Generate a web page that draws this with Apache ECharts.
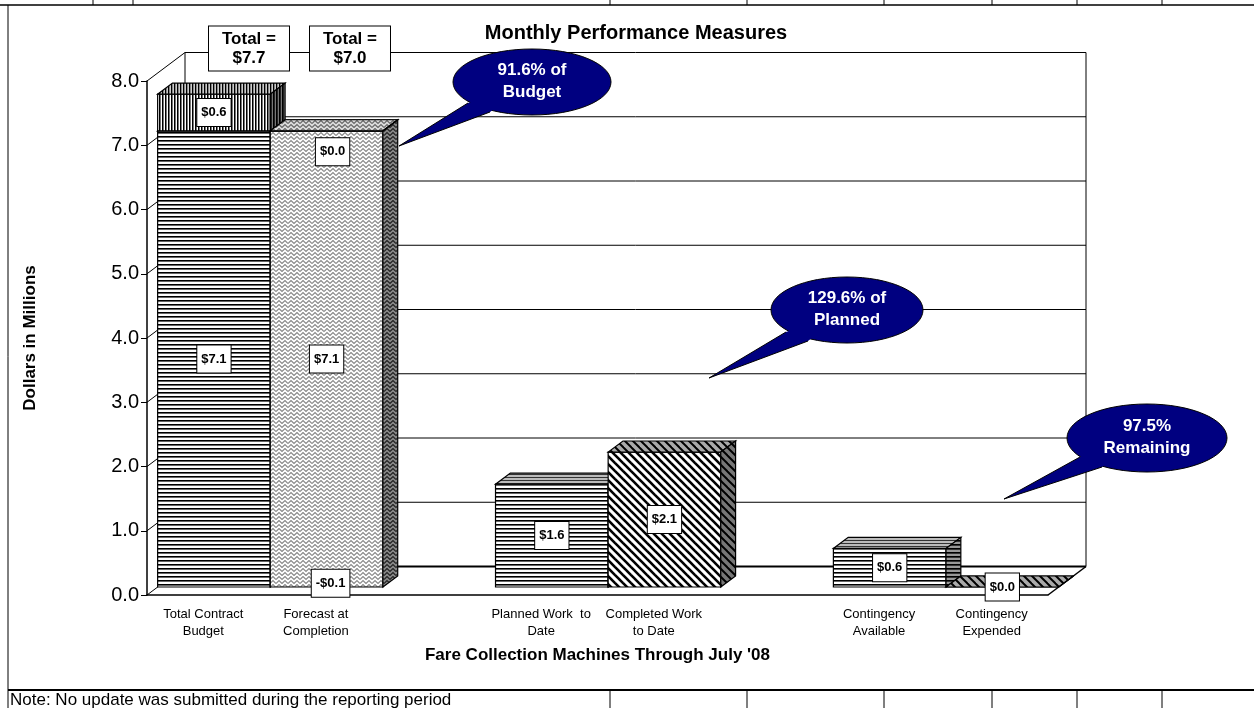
<!DOCTYPE html>
<html>
<head>
<meta charset="utf-8">
<title>Monthly Performance Measures</title>
<script src="https://cdn.jsdelivr.net/npm/echarts@6/dist/echarts.min.js"></script>
<style>
    html, body { margin: 0; padding: 0; background: #fff; }
    #chartDiv { width: 1254px; height: 708px; }
</style>
</head>
<body>
<div id="chartDiv"></div>
<script>
// x axis slots ('' = empty gap between groups)
var categories = ['Total Contract\nBudget', 'Forecast at\nCompletion', '', 'Planned Work  to\nDate', 'Completed Work\nto Date', '', 'Contingency\nAvailable', 'Contingency\nExpended'];
// stacked pieces, $ millions
var baseValues   = [7.1, 7.1, null, 1.6, 2.1, null, 0.6, 0.0];
var upperValues  = [0.57, 0.0, null, null, null, null, null, null];
var creditValues = [null, -0.1, null, null, null, null, null, null];
var yTicks = [0, 1, 2, 3, 4, 5, 6, 7, 8];
var calloutTexts = ['91.6% of\nBudget', '129.6% of\nPlanned', '97.5%\nRemaining'];

var FONT = '"Liberation Sans", Arial, sans-serif';
var depthX = 38, depthY = -28.5;   // 3d wall depth
var frontT = 0.28, backT = 0.67;   // where bars sit inside the depth

function fmt(v) {
    return (v < 0 ? '-' : '') + '$' + Math.abs(v).toFixed(1);
}

/* ---- fill patterns ---- */
function tile(w, h, draw) {
    var c = document.createElement('canvas');
    c.width = w; c.height = h;
    var ctx = c.getContext('2d');
    draw(ctx, w, h);
    return { image: c, repeat: 'repeat' };
}
function rows(colors) {
    return tile(4, colors.length, function (ctx) {
        colors.forEach(function (col, i) { ctx.fillStyle = col; ctx.fillRect(0, i, 4, 1); });
    });
}
function cols(colors) {
    return tile(colors.length, 4, function (ctx) {
        colors.forEach(function (col, i) { ctx.fillStyle = col; ctx.fillRect(i, 0, 1, 4); });
    });
}
function zigzag(bg, ink) {
    return tile(12, 8, function (ctx, w, h) {
        ctx.fillStyle = bg; ctx.fillRect(0, 0, w, h);
        ctx.strokeStyle = ink; ctx.lineWidth = 1.2;
        [0.5, 4.5].forEach(function (y0) {
            ctx.beginPath();
            ctx.moveTo(0, y0 + 3); ctx.lineTo(3, y0); ctx.lineTo(6, y0 + 3); ctx.lineTo(9, y0); ctx.lineTo(12, y0 + 3);
            ctx.stroke();
        });
    });
}
function diag(bg, ink, lw) {
    return tile(8, 8, function (ctx, w, h) {
        ctx.fillStyle = bg; ctx.fillRect(0, 0, w, h);
        ctx.strokeStyle = ink; ctx.lineWidth = lw;
        [-8, 0, 8].forEach(function (k) {
            ctx.beginPath(); ctx.moveTo(k - 2, -2); ctx.lineTo(k + 10, 10); ctx.stroke();
        });
    });
}
var fills = {
    hlines: { front: rows(['#000', '#666', '#fff', '#fff']), top: rows(['#333', '#bbb', '#bbb']), side: rows(['#000', '#333', '#999', '#999']) },
    vlines: { front: cols(['#000', '#777', '#fff']), top: cols(['#000', '#888', '#ccc']), side: cols(['#000', '#222', '#777']) },
    zigzag: { front: zigzag('#fff', '#8a8a8a'), top: zigzag('#ddd', '#666'), side: zigzag('#888', '#222') },
    diag:   { front: diag('#fff', '#000', 2.6), top: diag('#aaa', '#000', 2), side: diag('#777', '#000', 2) }
};
var basePatterns  = ['hlines', 'zigzag', null, 'hlines', 'diag', null, 'hlines', 'diag'];
var upperPatterns = ['vlines', 'zigzag', null, null, null, null, null, null];

/* ---- back wall, side wall, floor ---- */
function renderWall(params, api) {
    var cs = params.coordSys;
    var v = api.value(1);
    var y = api.coord([0, v])[1];
    var left = cs.x, right = cs.x + cs.width;
    var children = [
        { type: 'line', shape: { x1: left + depthX, y1: y + depthY, x2: right + depthX, y2: y + depthY },
          style: { stroke: '#000', lineWidth: v === 0 ? 2 : 1 } },
        { type: 'line', shape: { x1: left, y1: y, x2: left + depthX, y2: y + depthY },
          style: { stroke: '#000', lineWidth: 1 } }
    ];
    if (v === yTicks[yTicks.length - 1]) {
        var yb = api.coord([0, 0])[1];
        children.push(
            { type: 'line', shape: { x1: left + depthX, y1: y + depthY, x2: left + depthX, y2: yb + depthY }, style: { stroke: '#000', lineWidth: 1 } },
            { type: 'line', shape: { x1: right + depthX, y1: y + depthY, x2: right + depthX, y2: yb + depthY }, style: { stroke: '#000', lineWidth: 1 } },
            { type: 'line', shape: { x1: right, y1: yb, x2: right + depthX, y2: yb + depthY }, style: { stroke: '#000', lineWidth: 1.5 } }
        );
    }
    return { type: 'group', children: children };
}

/* ---- 3d bar pieces ---- */
function boxRenderer(patterns, nudge, drawBox) {
    return function (params, api) {
        var cs = params.coordSys;
        var i = api.value(0), lo = api.value(1), hi = api.value(2), v = api.value(3);
        var band = cs.width / categories.length;
        var pLo = api.coord([i, Math.max(lo, 0)]);
        var pHi = api.coord([i, Math.max(hi, 0)]);
        var x0 = pLo[0] - band / 2 + depthX * frontT;
        var x1 = x0 + band;
        var yLo = pLo[1] + depthY * frontT;
        var yHi = pHi[1] + depthY * frontT;
        var dx = depthX * (backT - frontT), dy = depthY * (backT - frontT);
        var children = [];
        var f = patterns && fills[patterns[i]];
        if (drawBox && f) {
            var edge = { stroke: '#000', lineWidth: 1.2 };
            children.push(
                { type: 'polygon', shape: { points: [[x0, yHi], [x1, yHi], [x1, yLo], [x0, yLo]] },
                  style: Object.assign({ fill: f.front }, edge) },
                { type: 'polygon', shape: { points: [[x0, yHi], [x1, yHi], [x1 + dx, yHi + dy], [x0 + dx, yHi + dy]] },
                  style: Object.assign({ fill: f.top }, edge) },
                { type: 'polygon', shape: { points: [[x1, yHi], [x1 + dx, yHi + dy], [x1 + dx, yLo + dy], [x1, yLo]] },
                  style: Object.assign({ fill: f.side }, edge) }
            );
        }
        var n = (nudge && nudge[i]) || [0, 0];
        var yMid = (api.coord([i, lo])[1] + api.coord([i, hi])[1]) / 2 + depthY * frontT;
        children.push({
            type: 'text', z2: 50,
            x: (x0 + x1) / 2 + n[0], y: yMid + n[1],
            style: {
                text: fmt(v), font: 'bold 13px ' + FONT, fill: '#000',
                align: 'center', verticalAlign: 'middle',
                backgroundColor: '#fff', borderColor: '#000', borderWidth: 1, padding: [7, 4]
            }
        });
        return { type: 'group', children: children };
    };
}

function pieces(values, below) {
    var out = [];
    values.forEach(function (v, i) {
        if (v == null) return;
        var lo = below ? below[i] : 0;
        out.push(v < 0 ? [i, v, 0, v] : [i, lo, lo + v, v]);
    });
    return out;
}

var totals = [0, 1].map(function (i) {
    return baseValues[i] + upperValues[i] + (creditValues[i] || 0);
});

/* ---- annotations ---- */
function callout(text, cx, cy, rx, ry, tip, b1, b2) {
    return [
        { type: 'ellipse', z: 100, shape: { cx: cx, cy: cy, rx: rx, ry: ry }, style: { fill: '#000080', stroke: '#000', lineWidth: 1 } },
        { type: 'polygon', z: 101, shape: { points: [b1, tip, b2, [cx, cy]] }, style: { fill: '#000080' } },
        { type: 'polyline', z: 102, shape: { points: [b1, tip, b2] }, style: { stroke: '#000', lineWidth: 1, fill: null } },
        { type: 'text', z: 103, x: cx, y: cy - 1, style: { text: text, font: 'bold 17px ' + FONT, fill: '#fff', align: 'center', verticalAlign: 'middle', lineHeight: 22 } }
    ];
}
function hline(x1, y, x2, w) {
    return { type: 'line', z: 100, shape: { x1: x1, y1: y, x2: x2, y2: y }, style: { stroke: '#000', lineWidth: w || 1 } };
}
function vline(x, y1, y2) {
    return { type: 'line', z: 100, shape: { x1: x, y1: y1, x2: x, y2: y2 }, style: { stroke: '#000', lineWidth: 1 } };
}

var graphics = [];
graphics.push(hline(0, 5, 1254, 1.5), vline(8, 5, 708), hline(8, 690, 1254, 2));
[93, 133, 610, 747, 884, 992, 1077, 1162].forEach(function (x) { graphics.push(vline(x, 0, 5)); });
[610, 747, 884, 992, 1077, 1162].forEach(function (x) { graphics.push(vline(x, 690, 708)); });
graphics.push({ type: 'text', z: 100, x: 10, y: 700, style: { text: 'Note: No update was submitted during the reporting period', font: '17px ' + FONT, fill: '#000', verticalAlign: 'middle' } });
[249, 350].forEach(function (x, i) {
    graphics.push({ type: 'text', z: 100, x: x, y: 48.5, style: {
        text: 'Total =\n' + fmt(totals[i]), font: 'bold 17px ' + FONT, fill: '#000', align: 'center', verticalAlign: 'middle',
        lineHeight: 19, backgroundColor: '#fff', borderColor: '#000', borderWidth: 1, padding: [3, 13]
    } });
});
graphics = graphics.concat(
    callout(calloutTexts[0], 532, 82, 79, 33, [399, 146], [468, 103], [490, 112]),
    callout(calloutTexts[1], 847, 310, 76, 33, [709, 378], [786, 332], [808, 341]),
    callout(calloutTexts[2], 1147, 438, 80, 34, [1004, 499], [1080, 457], [1102, 467])
);

var myChart = echarts.init(document.getElementById('chartDiv'));
var option = {
    backgroundColor: '#fff',
    animation: false,
    title: {
        text: 'Monthly Performance Measures', left: 631, top: 18, textAlign: 'center',
        textStyle: { fontFamily: FONT, fontSize: 20, fontWeight: 'bold', color: '#000' }
    },
    grid: { left: 147, right: 206, top: 81, bottom: 113 },
    xAxis: {
        type: 'category', data: categories, boundaryGap: true,
        axisLine: { lineStyle: { color: '#000', width: 1.5 } },
        axisTick: { length: 6, interval: 0, lineStyle: { color: '#000' } },
        axisLabel: { interval: 0, color: '#000', fontFamily: FONT, fontSize: 13, lineHeight: 17, margin: 11 },
        name: 'Fare Collection Machines Through July \'08', nameLocation: 'middle', nameGap: 52,
        nameTextStyle: { fontFamily: FONT, fontSize: 17, fontWeight: 'bold', color: '#000' }
    },
    yAxis: {
        type: 'value', min: 0, max: 8, interval: 1,
        axisLine: { show: true, lineStyle: { color: '#000', width: 1.5 } },
        axisTick: { show: true, length: 6, lineStyle: { color: '#000' } },
        splitLine: { show: false },
        axisLabel: { color: '#000', fontFamily: FONT, fontSize: 20, margin: 8, formatter: function (v) { return v.toFixed(1); } },
        name: 'Dollars in Millions', nameLocation: 'middle', nameGap: 108, nameRotate: 90,
        nameTextStyle: { fontFamily: FONT, fontSize: 17, fontWeight: 'bold', color: '#000' }
    },
    graphic: graphics,
    series: [
        { type: 'custom', z: 1, clip: false, silent: true, renderItem: renderWall,
          data: yTicks.map(function (v) { return [0, v]; }), encode: { x: 0, y: 1 } },
        { type: 'custom', z: 3, clip: false, silent: true, renderItem: boxRenderer(basePatterns, null, true),
          data: pieces(baseValues), encode: { x: 0, y: 2 } },
        { type: 'custom', z: 4, clip: false, silent: true, renderItem: boxRenderer(upperPatterns, { 1: [6, 21] }, true),
          data: pieces(upperValues, baseValues), encode: { x: 0, y: 2 } },
        { type: 'custom', z: 5, clip: false, silent: true, renderItem: boxRenderer(null, { 1: [4, -7] }, false),
          data: pieces(creditValues), encode: { x: 0, y: 2 } }
    ]
};
myChart.setOption(option);
</script>
</body>
</html>
